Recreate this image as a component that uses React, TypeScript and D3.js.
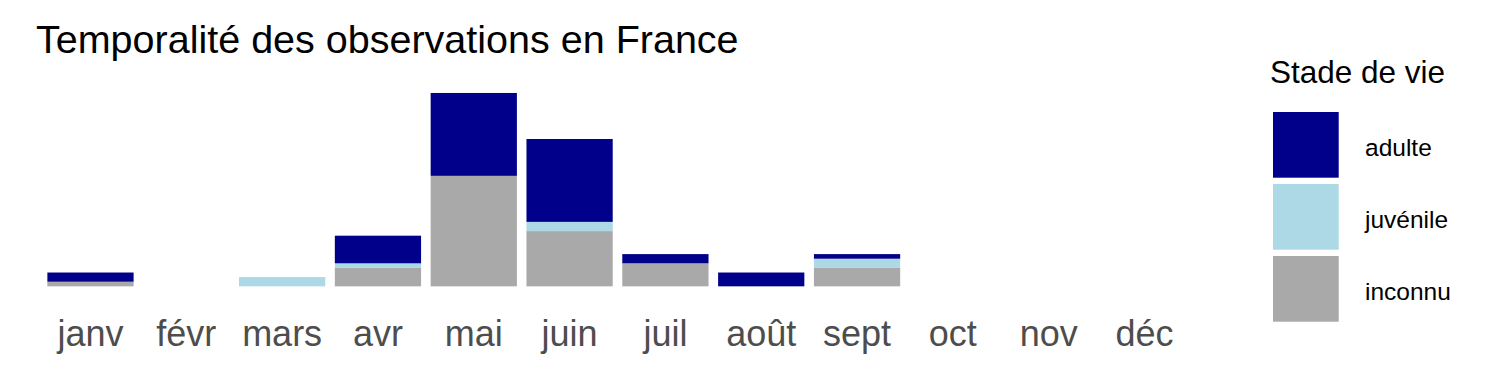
import React from "react";
import * as d3 from "d3";

const months = ["janv", "févr", "mars", "avr", "mai", "juin", "juil", "août", "sept", "oct", "nov", "déc"];
const stages = ["adulte", "juvénile", "inconnu"];
const adulte = [2, 0, 0, 6, 18, 18, 2, 3, 1, 0, 0, 0];
const juvenile = [0, 0, 2, 1, 0, 2, 0, 0, 2, 0, 0, 0];
const inconnu = [1, 0, 0, 4, 24, 12, 5, 0, 4, 0, 0, 0];
const colors = ["#00008B", "#ADD8E6", "#A9A9A9"];

const W = 1500;
const H = 375;
const FONT = "'Liberation Sans', Arial, sans-serif";

export default function App() {
  const rows = months.map((m, i) => ({ month: m, adulte: adulte[i], "juvénile": juvenile[i], inconnu: inconnu[i] }));
  const stack = d3.stack<any>().keys(["inconnu", "juvénile", "adulte"]);
  const series = stack(rows);
  const colorOf = d3.scaleOrdinal<string, string>().domain(stages).range(colors);

  const panelLeft = 33;
  const panelRight = 1202;
  const x = d3.scalePoint().domain(months).range([panelLeft, panelRight]).padding(0.6);
  const bw = x.step() * 0.9;
  const maxTotal = d3.max(rows, (r) => r.adulte + r["juvénile"] + r.inconnu) as number;
  const y = d3.scaleLinear().domain([-0.05 * maxTotal, maxTotal * 1.05]).range([296, 83.3]);

  const legendX = 1273;
  const keySize = 65.7;
  const keyStep = 72;
  const legendTop = 112;

  return (
    <svg width={W} height={H} style={{ display: "block", position: "absolute", left: 0, top: 0 }} fontFamily={FONT}>
      <rect width={W} height={H} fill="#ffffff" />
      <text x={36} y={53} fontSize={39.5} fill="#000">Temporalité des observations en France</text>
      {series.map((s) => (
        <g key={s.key} fill={colorOf(s.key)}>
          {s.map((d, i) =>
            d[1] - d[0] > 0 ? (
              <rect
                key={i}
                x={(x(months[i]) as number) - bw / 2}
                width={bw}
                y={y(d[1])}
                height={y(d[0]) - y(d[1])}
              />
            ) : null
          )}
        </g>
      ))}
      {months.map((m) => (
        <text key={m} x={x(m) as number} y={346} fontSize={36} fill="#4D4D4D" textAnchor="middle">
          {m}
        </text>
      ))}
      <text x={1270} y={83} fontSize={31.5} fill="#000">Stade de vie</text>
      {stages.map((s, i) => (
        <g key={s}>
          <rect x={legendX} y={legendTop + i * keyStep} width={keySize} height={keySize} fill={colorOf(s)} />
          <text x={1365} y={legendTop + i * keyStep + keySize / 2 + 11} fontSize={24.5} fill="#000">
            {s}
          </text>
        </g>
      ))}
    </svg>
  );
}
